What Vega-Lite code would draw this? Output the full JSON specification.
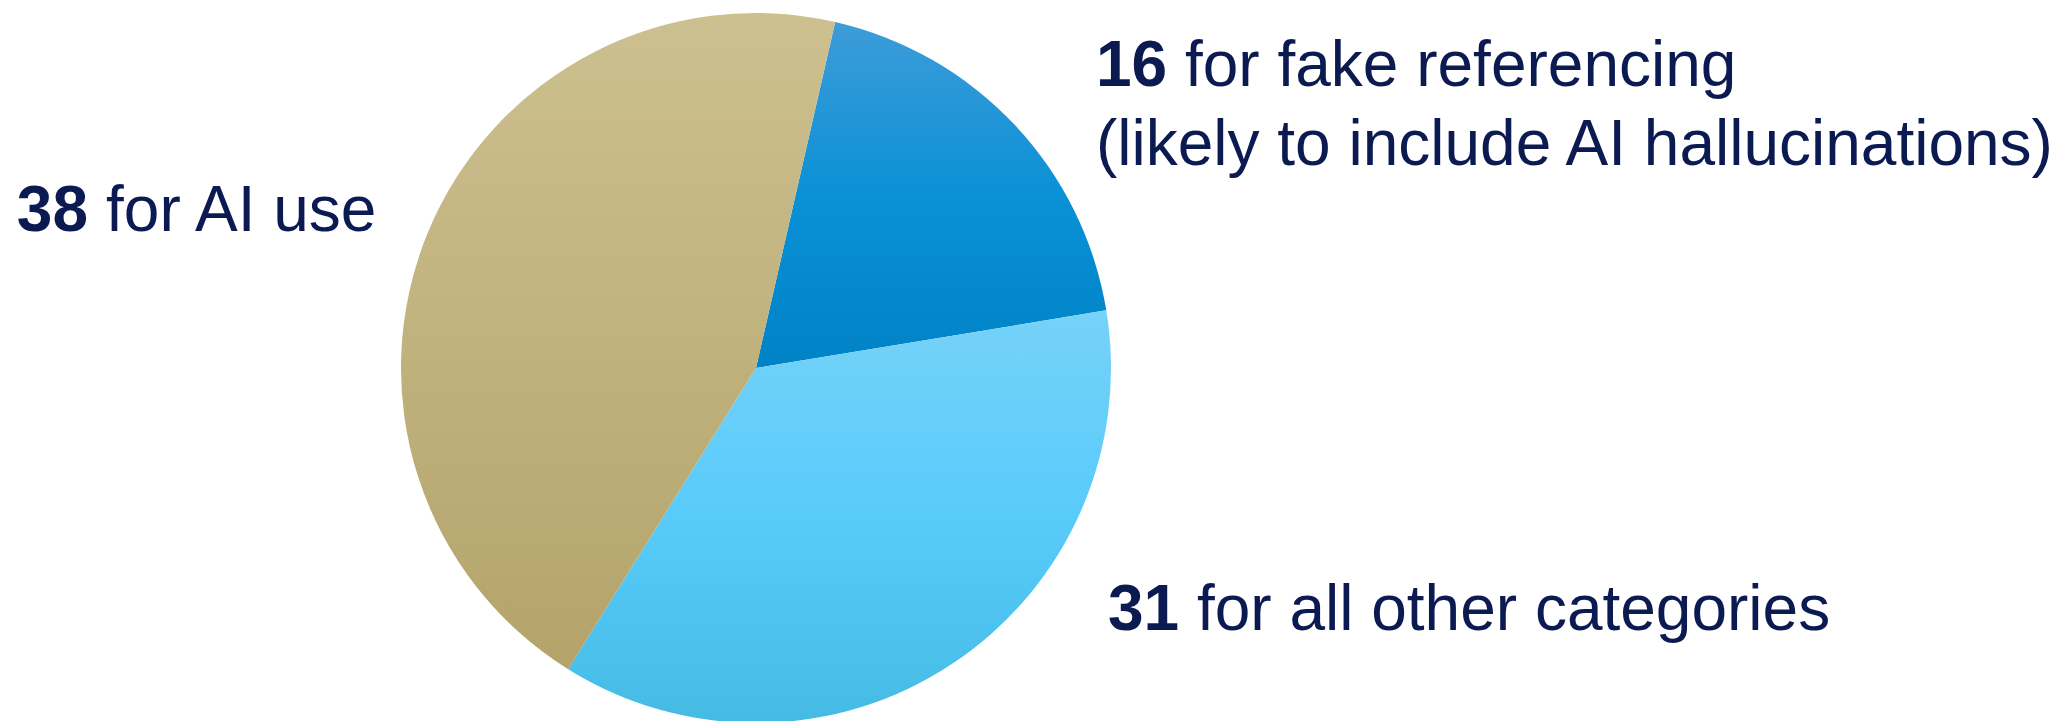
{
  "$schema": "https://vega.github.io/schema/vega-lite/v6.json",
  "width": 1512,
  "height": 706,
  "autosize": {"type": "none"},
  "padding": {"left": 0, "top": 15, "right": 550, "bottom": 0},
  "background": "white",
  "config": {"view": {"stroke": null}},
  "data": {
    "values": [
      {"category": "fake", "value": 16, "num": "16", "rest": "for fake referencing", "line2": "(likely to include AI hallucinations)"},
      {"category": "other", "value": 31, "num": "31", "rest": "for all other categories", "line2": ""},
      {"category": "ai", "value": 38, "num": "38", "rest": "for AI use", "line2": ""}
    ]
  },
  "transform": [{"stack": "value", "groupby": [], "as": ["v0", "v1"]}],
  "layer": [
    {
      "transform": [{"filter": "datum.category === 'fake'"}],
      "mark": {"type": "arc", "radius": 355, "color": {"gradient": "linear", "x1": 0, "y1": 0, "x2": 0, "y2": 1, "stops": [{"offset": 0, "color": "#3e9cd9"}, {"offset": 0.5, "color": "#0a91d6"}, {"offset": 1, "color": "#0082c6"}]}},
      "encoding": {
        "theta": {"field": "v0", "type": "quantitative", "scale": {"domain": [0, 85], "range": [0.225, 6.5082]}},
        "theta2": {"field": "v1"}
      }
    },
    {
      "transform": [{"filter": "datum.category === 'other'"}],
      "mark": {"type": "arc", "radius": 355, "color": {"gradient": "linear", "x1": 0, "y1": 0, "x2": 0, "y2": 1, "stops": [{"offset": 0, "color": "#76d2f8"}, {"offset": 0.5, "color": "#58cbfb"}, {"offset": 1, "color": "#45bbe3"}]}},
      "encoding": {
        "theta": {"field": "v0", "type": "quantitative"},
        "theta2": {"field": "v1"}
      }
    },
    {
      "transform": [{"filter": "datum.category === 'ai'"}],
      "mark": {"type": "arc", "radius": 355, "color": {"gradient": "linear", "x1": 0, "y1": 0, "x2": 0, "y2": 1, "stops": [{"offset": 0, "color": "#cdc090"}, {"offset": 1, "color": "#b4a46b"}]}},
      "encoding": {
        "theta": {"field": "v0", "type": "quantitative"},
        "theta2": {"field": "v1"}
      }
    },
    {
      "transform": [{"filter": "datum.category === 'ai'"}],
      "mark": {"type": "text", "theta": -1.3685, "radius": 681.9, "align": "right", "baseline": "alphabetic", "font": "Liberation Sans", "fontSize": 64, "fontWeight": "bold", "color": "#0c1a52"},
      "encoding": {"text": {"field": "num"}}
    },
    {
      "transform": [{"filter": "datum.category === 'ai'"}],
      "mark": {"type": "text", "theta": -1.3685, "radius": 681.9, "dx": 18, "align": "left", "baseline": "alphabetic", "font": "Liberation Sans", "fontSize": 64, "color": "#0c1a52"},
      "encoding": {"text": {"field": "rest"}}
    },
    {
      "transform": [{"filter": "datum.category === 'fake'"}],
      "mark": {"type": "text", "theta": 0.8784, "radius": 441.7, "align": "left", "baseline": "alphabetic", "font": "Liberation Sans", "fontSize": 64, "fontWeight": "bold", "color": "#0c1a52"},
      "encoding": {"text": {"field": "num"}}
    },
    {
      "transform": [{"filter": "datum.category === 'fake'"}],
      "mark": {"type": "text", "theta": 0.8784, "radius": 441.7, "dx": 89, "align": "left", "baseline": "alphabetic", "font": "Liberation Sans", "fontSize": 64, "color": "#0c1a52"},
      "encoding": {"text": {"field": "rest"}}
    },
    {
      "transform": [{"filter": "datum.category === 'fake'"}],
      "mark": {"type": "text", "theta": 1.0325, "radius": 396.0, "align": "left", "baseline": "alphabetic", "font": "Liberation Sans", "fontSize": 64, "color": "#0c1a52"},
      "encoding": {"text": {"field": "line2"}}
    },
    {
      "transform": [{"filter": "datum.category === 'other'"}],
      "mark": {"type": "text", "theta": 2.2108, "radius": 438.8, "align": "left", "baseline": "alphabetic", "font": "Liberation Sans", "fontSize": 64, "fontWeight": "bold", "color": "#0c1a52"},
      "encoding": {"text": {"field": "num"}}
    },
    {
      "transform": [{"filter": "datum.category === 'other'"}],
      "mark": {"type": "text", "theta": 2.2108, "radius": 438.8, "dx": 89, "align": "left", "baseline": "alphabetic", "font": "Liberation Sans", "fontSize": 64, "color": "#0c1a52"},
      "encoding": {"text": {"field": "rest"}}
    }
  ]
}
